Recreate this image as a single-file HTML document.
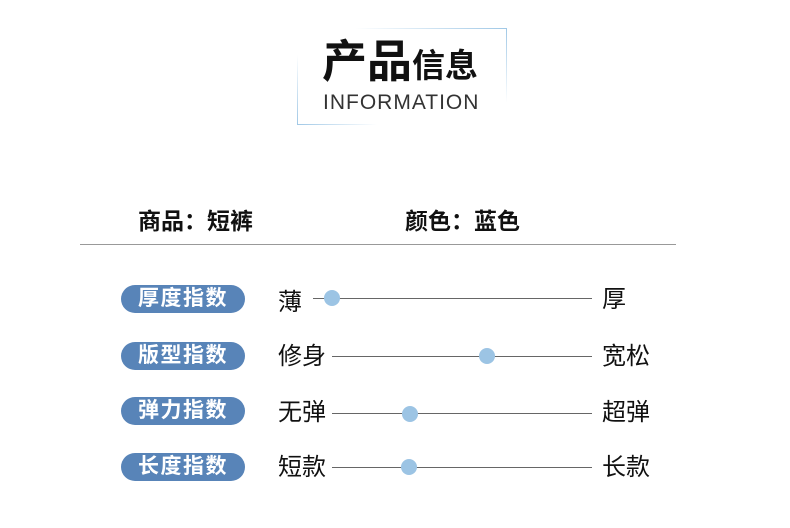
<!DOCTYPE html>
<html><head><meta charset="utf-8"><style>
body{margin:0;width:790px;height:528px;background:#fff;position:relative;overflow:hidden;font-family:"Liberation Sans","Noto Sans CJK SC",sans-serif;color:#111}
.a{position:absolute}
.pill{position:absolute;left:121px;width:124px;height:28px;border-radius:14px;background:#5884b8;color:#fff;font-size:21px;line-height:28px;text-align:center;letter-spacing:1.5px;font-weight:bold}
.lab{position:absolute;font-size:24px;line-height:26px}
.ln{position:absolute;height:1px;background:#666}
.dot{position:absolute;width:16px;height:16px;border-radius:50%;background:#9cc4e4}
</style></head><body>
<div class="a" style="left:355px;top:28px;width:152px;height:1px;background:linear-gradient(to right,rgba(160,200,230,0),#a0c8e6)"></div>
<div class="a" style="left:506px;top:28px;width:1px;height:75px;background:linear-gradient(to bottom,#a0c8e6,rgba(160,200,230,0))"></div>
<div class="a" style="left:297px;top:55px;width:1px;height:70px;background:linear-gradient(to top,#a0c8e6,rgba(160,200,230,0))"></div>
<div class="a" style="left:297px;top:124px;width:80px;height:1px;background:linear-gradient(to right,#a0c8e6,rgba(160,200,230,0))"></div>
<div class="a" style="left:322px;top:36px;font-size:45px;line-height:52px;font-weight:bold">产品<span style="font-size:33px">信息</span></div>
<div class="a" style="left:323px;top:91px;font-size:21px;line-height:24px;color:#333;letter-spacing:1px">INFORMATION</div>
<div class="a" style="left:138px;top:202px;font-size:23px;font-weight:bold">商品：短裤</div>
<div class="a" style="left:405px;top:202px;font-size:23px;font-weight:bold">颜色：蓝色</div>
<div class="a" style="left:80px;top:244px;width:596px;height:1px;background:#999"></div>

<div class="pill" style="top:285px">厚度指数</div>
<div class="lab" style="left:278px;top:290px">薄</div>
<div class="ln" style="left:313px;width:279px;top:298px"></div>
<div class="dot" style="left:324px;top:290px"></div>
<div class="lab" style="left:602px;top:287px">厚</div>

<div class="pill" style="top:342px">版型指数</div>
<div class="lab" style="left:278px;top:344px">修身</div>
<div class="ln" style="left:332px;width:260px;top:356px"></div>
<div class="dot" style="left:479px;top:348px"></div>
<div class="lab" style="left:602px;top:344px">宽松</div>

<div class="pill" style="top:397px">弹力指数</div>
<div class="lab" style="left:278px;top:400px">无弹</div>
<div class="ln" style="left:332px;width:260px;top:413px"></div>
<div class="dot" style="left:402px;top:406px"></div>
<div class="lab" style="left:602px;top:400px">超弹</div>

<div class="pill" style="top:453px">长度指数</div>
<div class="lab" style="left:278px;top:455px">短款</div>
<div class="ln" style="left:332px;width:260px;top:467px"></div>
<div class="dot" style="left:401px;top:459px"></div>
<div class="lab" style="left:602px;top:455px">长款</div>
</body></html>
